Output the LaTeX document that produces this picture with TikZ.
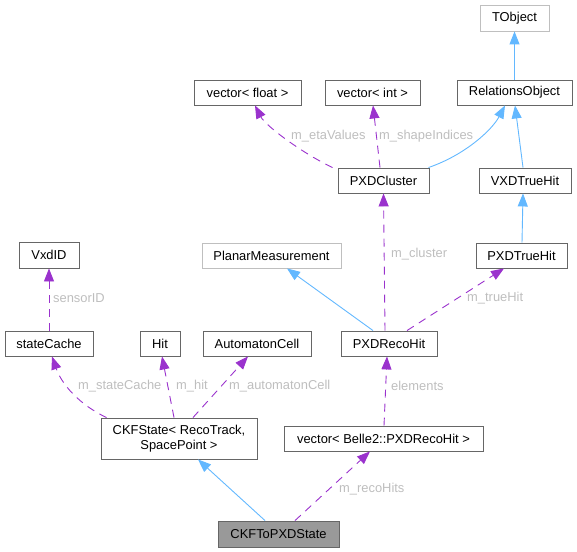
\documentclass[tikz,border=0pt]{standalone}
\usepackage{fontspec}
\setmainfont{Liberation Sans}
\usetikzlibrary{arrows.meta}
\definecolor{edgeblue}{HTML}{63B8FF}
\definecolor{edgepurple}{HTML}{9A32CD}
\definecolor{boxborder}{HTML}{666666}
\definecolor{lightborder}{HTML}{BFBFBF}
\definecolor{labelgray}{HTML}{BEBEBE}
\definecolor{focusfill}{HTML}{999999}
\begin{document}
\begin{tikzpicture}[x=1bp,y=-1bp,
  every node/.style={font=\fontsize{12.9bp}{15bp}\selectfont},
  cbox/.style={draw=boxborder,line width=0.9bp,inner sep=0pt,fill=white},
  lbox/.style={draw=lightborder,line width=0.9bp,inner sep=0pt,fill=white},
  inherit/.style={draw=edgeblue,line width=0.9bp,-{Triangle[length=13bp,width=10bp,fill=edgeblue]}},
  uses/.style={draw=edgepurple,line width=0.9bp,dash pattern=on 8bp off 6bp,-{Triangle[length=13bp,width=10bp,fill=edgepurple]}},
  elabel/.style={text=labelgray,anchor=west,inner sep=0pt}
]
\useasboundingbox (0,0) rectangle (577,552);
% nodes
\node[lbox,minimum width=69bp,minimum height=26bp] (TObject) at (514.5,18) {TObject};
\node[cbox,minimum width=115bp,minimum height=25bp] (RelationsObject) at (514.5,92.5) {RelationsObject};
\node[cbox,minimum width=107bp,minimum height=25bp] (vecfloat) at (247.5,92.5) {vector< float >};
\node[cbox,minimum width=95bp,minimum height=25bp] (vecint) at (372.5,92.5) {vector< int >};
\node[cbox,minimum width=91bp,minimum height=25bp] (PXDCluster) at (383.5,180.5) {PXDCluster};
\node[cbox,minimum width=92bp,minimum height=25bp] (VXDTrueHit) at (525,180.5) {VXDTrueHit};
\node[cbox,minimum width=60bp,minimum height=26bp] (VxdID) at (49,255) {VxdID};
\node[lbox,minimum width=139bp,minimum height=25bp] (Planar) at (271.5,255.5) {PlanarMeasurement};
\node[cbox,minimum width=91bp,minimum height=25bp] (PXDTrueHit) at (521.5,255.5) {PXDTrueHit};
\node[cbox,minimum width=88bp,minimum height=25bp] (stateCache) at (49,343.5) {stateCache};
\node[cbox,minimum width=40bp,minimum height=25bp] (Hit) at (160,343.5) {Hit};
\node[cbox,minimum width=108bp,minimum height=25bp] (AutomatonCell) at (257,343.5) {AutomatonCell};
\node[cbox,minimum width=96bp,minimum height=25bp] (PXDRecoHit) at (389,343.5) {PXDRecoHit};
\node[cbox,minimum width=156bp,minimum height=41bp,align=center] (CKFState) at (179,438.5) {CKFState< RecoTrack,\\SpacePoint >};
\node[cbox,minimum width=199bp,minimum height=25bp] (vecBelle) at (383.5,438.5) {vector< Belle2::PXDRecoHit >};
\node[cbox,fill=focusfill,minimum width=121bp,minimum height=26bp] (CKFToPXD) at (278.5,534) {CKFToPXDState};
% inheritance edges
\draw[inherit] (RelationsObject.north) -- (TObject.south);
\draw[inherit] ([xshift=-1bp]PXDCluster.north east) .. controls (465,155) and (492,130) .. ([xshift=-9.5bp]RelationsObject.south);
\draw[inherit] ([xshift=-2bp]VXDTrueHit.north) -- ([xshift=0.5bp]RelationsObject.south);
\draw[inherit] ([xshift=0.5bp]PXDTrueHit.north) -- ([xshift=-2bp]VXDTrueHit.south);
\draw[inherit] ([xshift=-16bp]PXDRecoHit.north) -- ([xshift=15.5bp]Planar.south);
\draw[inherit] ([xshift=-13.5bp]CKFToPXD.north) -- ([xshift=19bp]CKFState.south);
% usage edges
\draw[uses] ([xshift=-5bp]PXDCluster.north west) .. controls (300,152) and (265,125) .. ([xshift=7.5bp]vecfloat.south);
\draw[uses] ([xshift=-3.5bp]PXDCluster.north) -- ([xshift=0.5bp]vecint.south);
\draw[uses] ([xshift=-4bp]PXDRecoHit.north) -- (PXDCluster.south);
\draw[uses] ([xshift=18bp]PXDRecoHit.north) -- ([xshift=-17.5bp]PXDTrueHit.south);
\draw[uses] (stateCache.north) -- (VxdID.south);
\draw[uses] ([xshift=6bp]CKFState.north west) .. controls (80,405) and (62,385) .. ([xshift=3bp]stateCache.south);
\draw[uses] ([xshift=-5bp]CKFState.north) -- ([xshift=2bp]Hit.south);
\draw[uses] ([xshift=14bp]CKFState.north) -- ([xshift=-9bp]AutomatonCell.south);
\draw[uses] ([xshift=0.5bp]vecBelle.north) -- ([xshift=-2bp]PXDRecoHit.south);
\draw[uses] ([xshift=16.5bp]CKFToPXD.north) -- ([xshift=-13.5bp]vecBelle.south);
% edge labels
\node[elabel] (lEta) at (291,136) {m\_etaValues};
\node[elabel] (lShape) at (379,136) {m\_shapeIndices};
\node[elabel] (lCluster) at (391,254) {m\_cluster};
\node[elabel] (lTrue) at (467,298) {m\_trueHit};
\node[elabel] (lSensor) at (53,298) {sensorID};
\node[elabel] (lState) at (78,386) {m\_stateCache};
\node[elabel] (lHit) at (176,386) {m\_hit};
\node[elabel] (lAuto) at (229,386) {m\_automatonCell};
\node[elabel] (lElem) at (391,386) {elements};
\node[elabel] (lReco) at (339,489) {m\_recoHits};
\end{tikzpicture}
\end{document}
